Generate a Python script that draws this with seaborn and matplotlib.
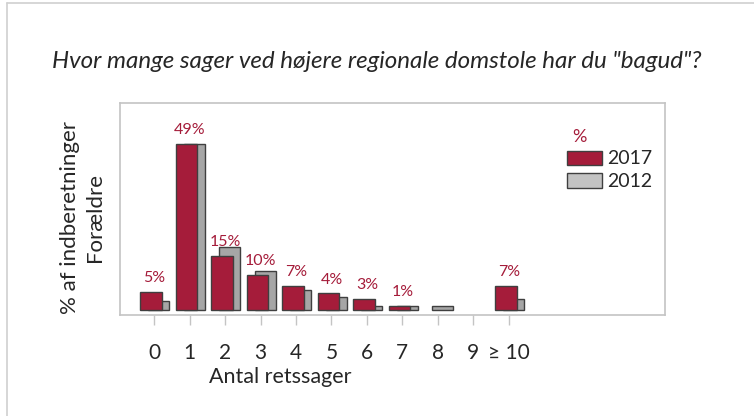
import matplotlib
matplotlib.use("Agg")
import matplotlib.pyplot as plt
import numpy as np
import pandas as pd
import seaborn as sns
from matplotlib.lines import Line2D
from matplotlib.patches import Patch

# data
categories = ["0", "1", "2", "3", "4", "5", "6", "7", "8", "9", "\u2265 10"]
share_2017 = [5.3, 49.0, 15.9, 10.3, 7.1, 4.9, 3.2, 1.2, 0.0, 0.0, 7.1]
share_2012 = [2.7, 49.0, 18.6, 11.5, 6.0, 3.8, 1.2, 1.2, 1.2, 0.0, 3.2]
labels_2017 = ["5%", "49%", "15%", "10%", "7%", "4%", "3%", "1%", "", "", "7%"]

RED = "#A51C3A"
GREY_BAR = "#A6A6A6"
GREY_LEG = "#C3C3C3"
EDGE = "#3F3F3F"
FRAME = "#C4C4C4"

sns.set_theme(style="white")
plt.rcParams["font.family"] = ["Lato", "DejaVu Sans"]

fig = plt.figure(figsize=(7.54, 4.16), dpi=100)
ax = fig.add_axes([120 / 754, (416 - 315) / 416, 545 / 754, 212 / 416])

pos = np.arange(len(categories))
df_new = pd.DataFrame({"x": pos - 0.085, "share": share_2017})
df_old = pd.DataFrame({"x": pos + 0.135, "share": share_2012})

sns.barplot(data=df_old, x="x", y="share", native_scale=True, width=0.6,
            color=GREY_BAR, saturation=1, edgecolor=EDGE, linewidth=1.0, ax=ax)
sns.barplot(data=df_new, x="x", y="share", native_scale=True, width=0.6,
            color=RED, saturation=1, edgecolor=EDGE, linewidth=1.0, ax=ax)

# empty categories get no bar outline
for p in ax.patches:
    if p.get_height() == 0:
        p.set_visible(False)

for i, (v, lab) in enumerate(zip(share_2017, labels_2017)):
    if lab:
        ax.text(i, v + 2.0, lab, ha="center", va="bottom", color=RED,
                fontsize=11.5, zorder=1)

ax.set_xlim(-0.96, 14.4)
ax.set_ylim(-1.5, 61)
ax.set_xticks(pos)
ax.set_xticklabels(categories, fontsize=15)
ax.set_yticks([])
ax.tick_params(axis="x", bottom=True, length=7, width=1, color=FRAME, pad=13)
for s in ax.spines.values():
    s.set_visible(True)
    s.set_color(FRAME)
    s.set_linewidth(1.2)

ax.set_xlabel("Antal retssager", fontsize=15.5)
ax.xaxis.set_label_coords(0.294, -0.245)
ax.set_ylabel("% af indberetninger\nForældre", fontsize=16, linespacing=1.3)
ax.yaxis.set_label_coords(-0.028, 0.46)

handles = [Patch(facecolor=RED, edgecolor=EDGE, linewidth=1.0),
           Patch(facecolor=GREY_LEG, edgecolor=EDGE, linewidth=1.0)]
leg = ax.legend(handles, ["2017", "2012"], title="%", loc="upper left",
                bbox_to_anchor=(553 / 754, 1 - 115 / 416), bbox_transform=fig.transFigure,
                frameon=False, fontsize=14, handlelength=1.8, handleheight=0.75,
                labelspacing=0.3, handletextpad=0.3, borderpad=0.2)
leg.get_title().set_color(RED)
leg.get_title().set_fontsize(13)
leg._legend_box.align = "left"
leg.get_title().set_position((6, 0))

fig.text(0.5, 1 - 61 / 416,
         'Hvor mange sager ved højere regionale domstole har du "bagud"?',
         ha="center", va="center", fontsize=17.4, style="italic")

# outer chart border (top and left visible)
fig.add_artist(Line2D([7 / 754, 7 / 754], [0, 1 - 3 / 416], transform=fig.transFigure,
                      color="#D0D0D0", linewidth=1.2))
fig.add_artist(Line2D([7 / 754, 1], [1 - 3 / 416, 1 - 3 / 416], transform=fig.transFigure,
                      color="#D0D0D0", linewidth=1.2))

fig.savefig("out.png", dpi=100)
